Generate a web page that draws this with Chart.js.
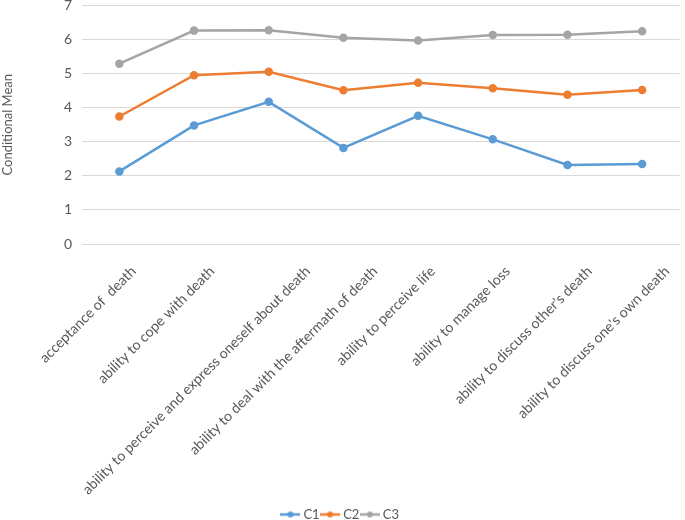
<!DOCTYPE html>
<html>
<head>
<meta charset="utf-8">
<script src="https://cdn.jsdelivr.net/npm/chart.js@4/dist/chart.umd.min.js"></script>
<style>
  html, body { margin: 0; padding: 0; background: #fff; overflow: hidden; }
  #clip { width: 685px; height: 520px; overflow: hidden; }
  #wrap { width: 685px; height: 544px; margin-top: -13px; }
</style>
</head>
<body>
<div id="clip"><div id="wrap"><canvas id="meanChart"></canvas></div></div>
<script>
  const categories = [
    "acceptance of  death",
    "ability to cope with death",
    "ability to perceive and express oneself about death",
    "ability to deal with the aftermath of death",
    "ability to perceive life",
    "ability to manage loss",
    "ability to discuss other's death",
    "ability to discuss one's own death"
  ];
  const c1 = [2.13, 3.48, 4.17, 2.82, 3.76, 3.07, 2.32, 2.35];
  const c2 = [3.74, 4.95, 5.05, 4.51, 4.73, 4.57, 4.38, 4.52];
  const c3 = [5.29, 6.26, 6.27, 6.05, 5.97, 6.13, 6.14, 6.24];
  const yTicks = [0, 1, 2, 3, 4, 5, 6, 7];

  const textColor = '#595959';
  const fontFamily = 'Lato, "Open Sans", sans-serif';
  const catFont = '14.2px Lato, "Open Sans", sans-serif';

  // legend marker: short line with a dot, like the spreadsheet legend
  function legendMark(color) {
    const c = document.createElement('canvas');
    c.width = 20; c.height = 10;
    const g = c.getContext('2d');
    g.strokeStyle = color;
    g.lineWidth = 2.5;
    g.beginPath(); g.moveTo(0, 5); g.lineTo(20, 5); g.stroke();
    g.fillStyle = color;
    g.beginPath(); g.arc(10, 5, 3, 0, Math.PI * 2); g.fill();
    return c;
  }

  function series(label, values, color) {
    return {
      label: label,
      data: values,
      borderColor: color,
      backgroundColor: color,
      borderWidth: 2.5,
      pointRadius: 3,
      pointHoverRadius: 3,
      tension: 0
    };
  }

  // rotated category labels, placed the way the spreadsheet does it
  // (longer labels reach a bit further right of their tick)
  const slantLabels = {
    id: 'slantLabels',
    afterDraw(chart) {
      const x = chart.scales.x;
      const g = chart.ctx;
      g.save();
      g.font = catFont;
      g.fillStyle = textColor;
      g.textAlign = 'right';
      g.textBaseline = 'middle';
      chart.data.labels.forEach((lab, i) => {
        const w = g.measureText(lab).width;
        const px = x.getPixelForTick(i) + 0.134 * w - 3;
        const py = x.top + 25;
        g.save();
        g.translate(px, py);
        g.rotate(-Math.PI / 4);
        g.fillText(lab, 0, 0);
        g.restore();
      });
      g.restore();
    }
  };

  const ctx = document.getElementById('meanChart').getContext('2d');
  new Chart(ctx, {
    type: 'line',
    data: {
      labels: categories,
      datasets: [
        series('C1', c1, '#5B9BD5'),
        series('C2', c2, '#ED7D31'),
        series('C3', c3, '#A5A5A5')
      ]
    },
    plugins: [slantLabels],
    options: {
      responsive: true,
      maintainAspectRatio: false,
      animation: false,
      layout: { padding: { top: 0, right: 2, left: 0, bottom: 0 } },
      scales: {
        x: {
          offset: true,
          grid: { display: false, drawTicks: false },
          border: { display: false },
          afterFit: (axis) => { axis.height = 260; },
          ticks: { display: false, autoSkip: false }
        },
        y: {
          min: 0,
          max: 7,
          afterBuildTicks: (axis) => { axis.ticks = yTicks.map(v => ({ value: v })); },
          afterFit: (axis) => { axis.width = 82; },
          grid: { color: '#d9d9d9', lineWidth: 1, drawTicks: false },
          border: { display: false },
          ticks: {
            color: textColor,
            font: { family: fontFamily, size: 14 },
            padding: 10
          },
          title: {
            display: true,
            text: 'Conditional Mean',
            color: textColor,
            font: { family: fontFamily, size: 13 },
            padding: { top: 0, bottom: 20 }
          }
        }
      },
      plugins: {
        legend: {
          position: 'bottom',
          labels: {
            color: textColor,
            font: { family: fontFamily, size: 13 },
            usePointStyle: true,
            boxWidth: 20,
            boxHeight: 10,
            padding: 4,
            generateLabels: (chart) => {
              const items = Chart.defaults.plugins.legend.labels.generateLabels(chart);
              items.forEach(it => {
                it.pointStyle = legendMark(chart.data.datasets[it.datasetIndex].borderColor);
              });
              return items;
            }
          }
        },
        tooltip: { enabled: false }
      }
    }
  });
</script>
</body>
</html>
